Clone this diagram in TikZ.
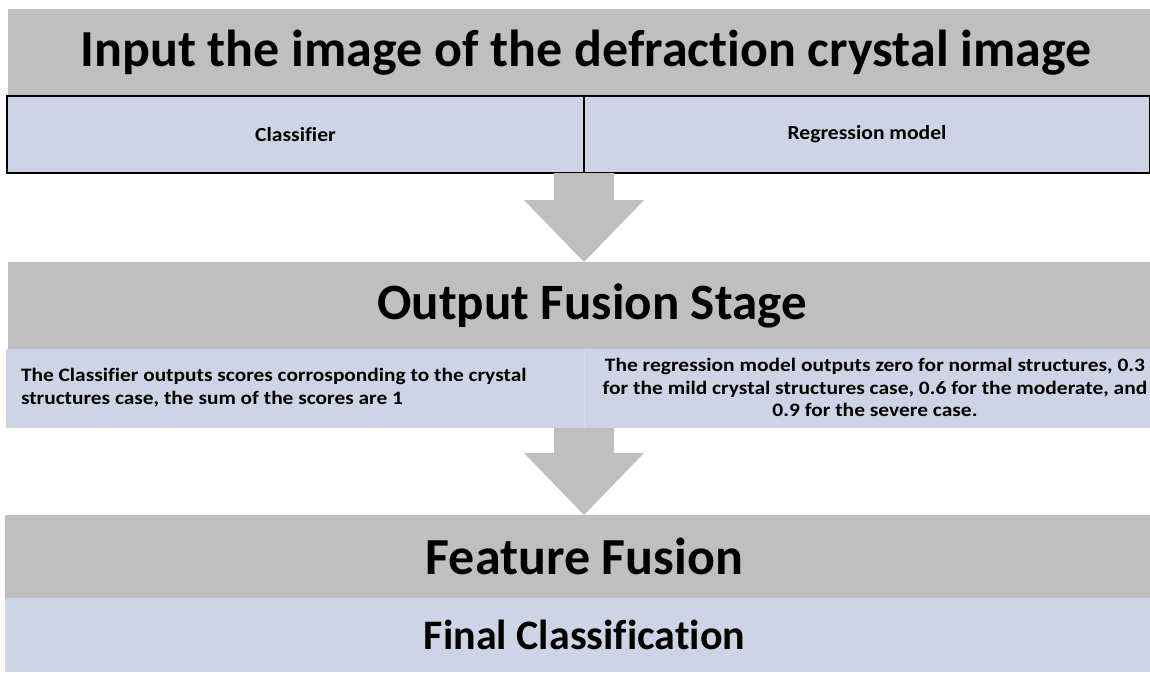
\documentclass[tikz,border=0pt]{standalone}
\usepackage{fontspec}
\setmainfont{Carlito}[Ligatures={NoCommon}]
\definecolor{bandgray}{HTML}{BFBFBF}
\definecolor{paleblue}{HTML}{CDD4E6}
\definecolor{lineblue}{HTML}{D8DDEC}
\begin{document}
\begin{tikzpicture}[x=1pt,y=-1pt,
  band/.style={fill=bandgray,draw=none,anchor=north west,inner sep=0pt,outer sep=0pt,align=center,font=\bfseries},
  cell/.style={fill=paleblue,anchor=north west,inner sep=0pt,outer sep=0pt,font=\bfseries},
  bordered/.style={draw=black,line width=1.4pt},
  txt/.style={inner sep=0pt,outer sep=0pt,font=\bfseries\fontsize{19}{22.5}\selectfont},
  bigarrow/.style={fill=bandgray,draw=none}]
\useasboundingbox (0,0) rectangle (1150,672);
\fill[white] (0,0) rectangle (1150,672);
% top band
\node[band,minimum width=1142pt,minimum height=87pt,font=\bfseries\fontsize{52}{56}\selectfont] (inp) at (8,9) {\hspace*{14pt}Input the image of the defraction crystal image};
\node[cell,bordered,minimum width=577pt,minimum height=77pt,font=\bfseries\fontsize{20}{24}\selectfont] (cls) at (7,96) {\scalebox{1.08}[1]{Classifier}};
\node[cell,bordered,minimum width=566pt,minimum height=77pt,font=\bfseries\fontsize{20}{24}\selectfont] (reg) at (584,96) {\scalebox{1.08}[1]{Regression model}};
% middle band
\node[band,minimum width=1142pt,minimum height=87pt,font=\bfseries\fontsize{51}{56}\selectfont] (ofs) at (8,262) {\hspace*{26pt}Output Fusion Stage};
\node[cell,minimum width=578pt,minimum height=79pt] (cout) at (6,349) {};
\node[cell,minimum width=566pt,minimum height=79pt] (rout) at (584,349) {};
\draw[lineblue,line width=0.6pt] (cout.north east) -- (cout.south east);
\node[txt,anchor=west] (couttxt) at ([shift={(15,0)}]cout.west) {\scalebox{1.125}[1]{\begin{tabular}{@{}l@{}}The Classifier outputs scores corrosponding to the crystal\\structures case, the sum of the scores are 1\end{tabular}}};
\node[txt] (routtxt) at ([shift={(8,1)}]rout.center) {\scalebox{1.13}[1]{\begin{tabular}{@{}c@{}}The regression model outputs zero for normal structures, 0.3\\for the mild crystal structures case, 0.6 for the moderate, and\\0.9 for the severe case.\end{tabular}}};
% bottom bands
\node[band,minimum width=1145pt,minimum height=83pt,font=\bfseries\fontsize{52}{56}\selectfont] (ff) at (5,515) {\hspace*{14pt}Feature Fusion};
\node[cell,minimum width=1145pt,minimum height=74pt,font=\bfseries\fontsize{42}{46}\selectfont] (fc) at (5,598) {\hspace*{14pt}Final Classification};
% arrows
\fill[bigarrow] ([shift={(-30,0)}]cls.south east) -- ([shift={(-30,27)}]cls.south east) -- ([shift={(-60,27)}]cls.south east) -- (cls.south east |- ofs.north) -- ([shift={(60,27)}]cls.south east) -- ([shift={(30,27)}]cls.south east) -- ([shift={(30,0)}]cls.south east) -- cycle;
\fill[bigarrow] ([shift={(-30,0)}]cout.south east) -- ([shift={(-30,25)}]cout.south east) -- ([shift={(-60,25)}]cout.south east) -- (cout.south east |- ff.north) -- ([shift={(60,25)}]cout.south east) -- ([shift={(30,25)}]cout.south east) -- ([shift={(30,0)}]cout.south east) -- cycle;
\end{tikzpicture}
\end{document}
